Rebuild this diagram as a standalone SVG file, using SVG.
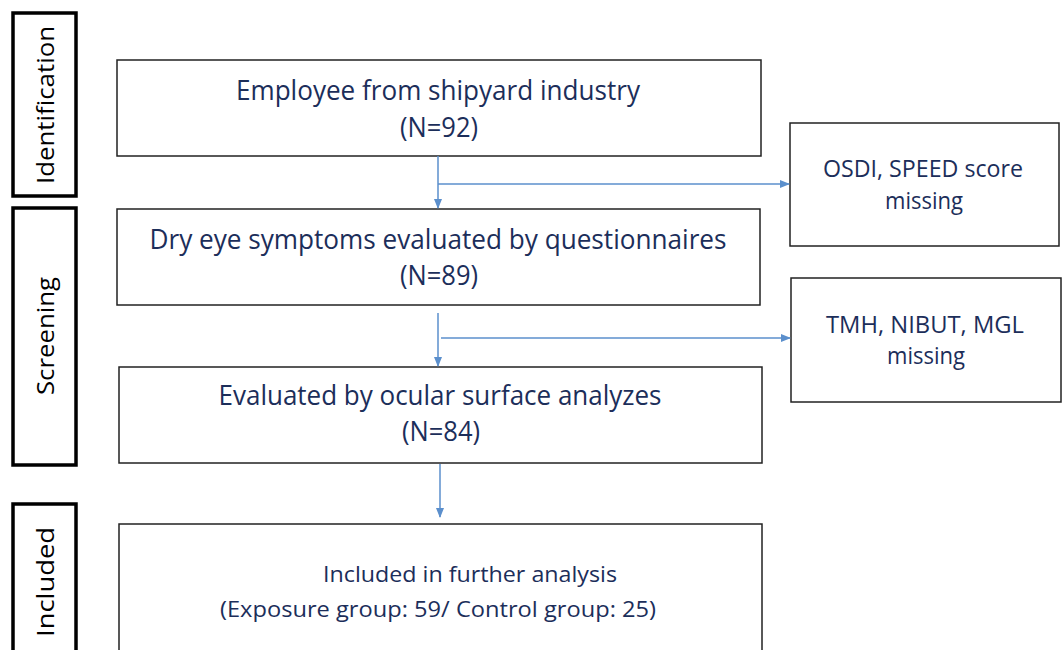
<svg xmlns="http://www.w3.org/2000/svg" width="1064" height="650" viewBox="0 0 1064 650">
<style>
.stage{fill:#fff;stroke:#000;stroke-width:3.5}
.box{fill:#fff;stroke:#222;stroke-width:1.5}
.t{font-family:"Open Sans","Noto Sans","Liberation Sans",sans-serif;fill:#1c2e5a;text-anchor:middle}
.big{font-size:27px}
.sm{font-size:22px}
.side{font-size:23px}
.lab{font-family:"Open Sans","Noto Sans","Liberation Sans",sans-serif;font-size:24px;fill:#000;text-anchor:middle}
.c{fill:none;stroke:#5b8fcc;stroke-width:1.5}
</style>
<defs>
<marker id="ah" markerWidth="10" markerHeight="10" refX="9" refY="5" orient="auto" markerUnits="userSpaceOnUse">
<path d="M0,1 L10,5 L0,9 Z" fill="#5b8fcc"/>
</marker>
</defs>
<rect width="1064" height="650" fill="#fff"/>
<g id="stage-identification">
<rect class="stage" x="13" y="13" width="63" height="183"/>
<text class="lab" transform="translate(54,105) rotate(-90)" textLength="158" lengthAdjust="spacingAndGlyphs">Identification</text>
</g>
<g id="stage-screening">
<rect class="stage" x="13" y="208" width="63" height="257"/>
<text class="lab" transform="translate(54,336) rotate(-90)" textLength="118" lengthAdjust="spacingAndGlyphs">Screening</text>
</g>
<g id="stage-included">
<rect class="stage" x="13" y="504" width="63" height="160"/>
<text class="lab" transform="translate(54,582) rotate(-90)" textLength="110" lengthAdjust="spacingAndGlyphs">Included</text>
</g>
<g id="box-employee">
<rect class="box" x="117" y="60" width="644" height="96"/>
<text class="t big" x="438" y="100" textLength="404" lengthAdjust="spacingAndGlyphs">Employee from shipyard industry</text>
<text class="t big" x="439" y="137" textLength="78" lengthAdjust="spacingAndGlyphs">(N=92)</text>
</g>
<g id="box-questionnaires">
<rect class="box" x="117" y="209" width="643" height="96"/>
<text class="t big" x="438" y="249" textLength="577" lengthAdjust="spacingAndGlyphs">Dry eye symptoms evaluated by questionnaires</text>
<text class="t big" x="439" y="285" textLength="78" lengthAdjust="spacingAndGlyphs">(N=89)</text>
</g>
<g id="box-ocular">
<rect class="box" x="119" y="367" width="643" height="96"/>
<text class="t big" x="440" y="405" textLength="443" lengthAdjust="spacingAndGlyphs">Evaluated by ocular surface analyzes</text>
<text class="t big" x="441" y="441" textLength="78" lengthAdjust="spacingAndGlyphs">(N=84)</text>
</g>
<g id="box-included">
<rect class="box" x="119" y="524" width="643" height="140"/>
<text class="t sm" x="470" y="582" textLength="294" lengthAdjust="spacingAndGlyphs">Included in further analysis</text>
<text class="t sm" x="438" y="617" textLength="436" lengthAdjust="spacingAndGlyphs">(Exposure group: 59/ Control group: 25)</text>
</g>
<g id="box-osdi-missing">
<rect class="box" x="790" y="123" width="269" height="123"/>
<text class="t side" x="923" y="177" textLength="200" lengthAdjust="spacingAndGlyphs">OSDI, SPEED score</text>
<text class="t side" x="924" y="209" textLength="78" lengthAdjust="spacingAndGlyphs">missing</text>
</g>
<g id="box-tmh-missing">
<rect class="box" x="791" y="278" width="270" height="124"/>
<text class="t side" x="925" y="333" textLength="198" lengthAdjust="spacingAndGlyphs">TMH, NIBUT, MGL</text>
<text class="t side" x="926" y="364" textLength="78" lengthAdjust="spacingAndGlyphs">missing</text>
</g>
<g id="connectors">
<line class="c" x1="438" y1="156" x2="438" y2="208" marker-end="url(#ah)"/>
<line class="c" x1="438" y1="184" x2="789" y2="184" marker-end="url(#ah)"/>
<line class="c" x1="438" y1="313" x2="438" y2="366" marker-end="url(#ah)"/>
<line class="c" x1="441" y1="338" x2="790" y2="338" marker-end="url(#ah)"/>
<line class="c" x1="440" y1="464" x2="440" y2="517" marker-end="url(#ah)"/>
</g>
</svg>
